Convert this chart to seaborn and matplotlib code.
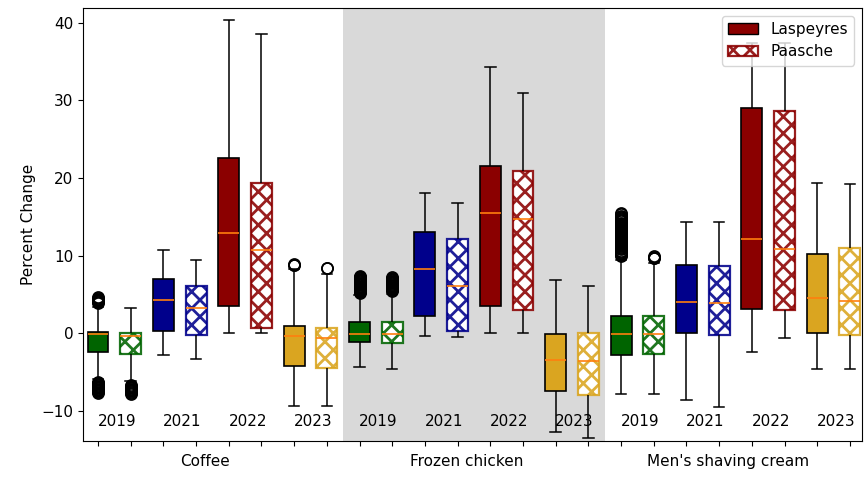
import numpy as np
import matplotlib
matplotlib.use("Agg")
import matplotlib.pyplot as plt
from matplotlib.patches import Patch
from matplotlib.colors import to_rgba
import seaborn as sns

plt.rcParams["font.size"] = 11
plt.rcParams["hatch.linewidth"] = 2.0

# Categories
groups = ["Coffee", "Frozen chicken", "Men's shaving cream"]
years = ["2019", "2021", "2022", "2023"]
methods = ["Laspeyres", "Paasche"]
year_colors = ["#006400", "#00008b", "#8b0000", "#daa520"]

# Box statistics, ordered group -> year -> (Laspeyres, Paasche)
whisker_low = [-5.9, -6.2, -2.79, -3.26, 0.0, 0.0, -9.36, -9.36,
               -4.38, -4.55, -0.3, -0.52, 0.0, 0.0, -12.66, -13.52,
               -7.85, -7.85, -8.62, -9.48, -2.36, -0.64, -4.6, -4.6]
q1 = [-2.4, -2.6, 0.34, -0.18, 3.56, 0.72, -4.17, -4.47,
      -1.08, -1.25, 2.23, 0.3, 3.56, 3.04, -7.47, -7.94,
      -2.79, -2.62, 0.0, -0.22, 3.13, 3.0, 0.0, -0.22]
median = [-0.05, -0.35, 4.29, 3.3, 12.9, 10.7, -0.3, -0.64,
          -0.04, -0.04, 8.24, 6.05, 15.48, 14.75, -3.4, -3.56,
          -0.04, -0.04, 3.99, 3.86, 12.14, 10.85, 4.58, 4.16]
q3 = [0.13, 0.08, 6.95, 6.13, 22.56, 19.4, 0.98, 0.64,
      1.41, 1.41, 13.04, 12.1, 21.57, 20.93, -0.09, 0.04,
      2.27, 2.27, 8.79, 8.66, 28.96, 28.6, 10.25, 10.94]
whisker_high = [3.4, 3.3, 10.76, 9.39, 40.3, 38.5, 8.3, 7.6,
                4.9, 5.0, 18.1, 16.77, 34.23, 30.9, 6.82, 6.05,
                9.5, 9.0, 14.29, 14.29, 37.4, 37.4, 19.38, 19.25]
outliers = [
    [-6.25, -6.35, -6.45, -6.55, -6.65, -6.75, -6.85, -6.95, -7.05, -7.15, -7.25,
     -7.35, -7.45, -7.55, -7.65,
     3.95, 4.05, 4.15, 4.25, 4.35, 4.45, 4.55, 4.65],
    [-6.65, -6.75, -6.85, -6.95, -7.05, -7.15, -7.25, -7.35, -7.45, -7.55, -7.65, -7.75],
    [], [], [], [],
    [8.75, 8.85, 8.95],
    [8.35, 8.45],
    [5.2, 5.3, 5.4, 5.5, 5.6, 5.7, 5.8, 5.9, 6.0, 6.1, 6.2, 6.3, 6.4, 6.5, 6.6, 6.7, 6.8,
     6.9, 7.0, 7.1, 7.2, 7.3, 7.4],
    [5.45, 5.55, 5.65, 5.75, 5.85, 5.95, 6.05, 6.15, 6.25, 6.35, 6.45, 6.55, 6.65, 6.75,
     6.85, 6.95, 7.05, 7.15, 7.25],
    [], [], [], [], [], [],
    [9.9, 10.05, 10.2, 10.35, 10.5, 10.65, 10.8, 10.95, 11.1, 11.25, 11.4, 11.55, 11.7,
     11.85, 12.0, 12.15, 12.3, 12.45, 12.6, 12.75, 12.9, 13.05, 13.2, 13.35, 13.5, 13.65,
     13.8, 13.95, 14.1, 14.25, 14.4, 14.55, 14.7, 14.85, 15.0, 15.15, 15.3, 15.5],
    [9.65, 9.75, 9.85, 9.95],
    [], [], [], [], [], [],
]


def sample_from_stats(i, reps=200):
    """Sample whose quartiles, whiskers and outliers reproduce box i."""
    return np.array(
        [whisker_low[i]] + [q1[i]] * reps + [median[i]] * reps
        + [q3[i]] * reps + [whisker_high[i]] + outliers[i]
    )


fig = plt.figure(figsize=(8.64, 4.78), dpi=100)
ax = fig.add_axes([83 / 864, 37 / 478, 779 / 864, 433 / 478])

# Shade the middle category
ax.axvspan(7.5, 15.5, facecolor="#d9d9d9", edgecolor="none", zorder=0)

flier_style = dict(marker="o", markersize=8, markerfacecolor="none",
                   markeredgecolor="black", markeredgewidth=1.2)

n_groups, n_years, n_methods = len(groups), len(years), len(methods)
for g in range(n_groups):
    for y in range(n_years):
        for m in range(n_methods):
            i = (g * n_years + y) * n_methods + m
            vals = sample_from_stats(i)
            sns.boxplot(
                x=np.full(len(vals), float(i)), y=vals, native_scale=True,
                orient="x", width=0.64, color=year_colors[y],
                linecolor="black", linewidth=1.1,
                flierprops=flier_style,
                medianprops=dict(color="#ff7f0e", linewidth=1.2),
                ax=ax,
            )
            box = ax.patches[-1]
            box.set_zorder(2)
            if methods[m] == "Paasche":
                edge = to_rgba(year_colors[y], 0.88)
                box.set_facecolor("white")
                box.set_edgecolor(edge)
                box.set_hatch("xx")
                box.set_linewidth(1.6)
            else:
                box.set_facecolor(year_colors[y])
                box.set_edgecolor("black")
                box.set_linewidth(1.2)

n_boxes = n_groups * n_years * n_methods
ax.set_xlim(-0.46, n_boxes - 1 + 0.37)
ax.set_ylim(-13.86, 41.87)
ax.set_xticks(np.arange(n_boxes))
ax.set_xticklabels([""] * n_boxes)
ax.set_yticks([-10, 0, 10, 20, 30, 40])
ax.set_xlabel("")
ax.set_ylabel("Percent Change")

# Year labels under each Laspeyres/Paasche pair
for g in range(n_groups):
    for y, year in enumerate(years):
        xc = (g * n_years + y) * n_methods + 0.5
        ax.text(xc + 0.08, -11.3, year, ha="center", va="center", fontsize=11, zorder=3)

# Category labels below the axis
for g, name in enumerate(groups):
    xc = g * n_years * n_methods + (n_years * n_methods - 1) / 2 - 0.23
    ax.annotate(name, xy=(xc, 0), xycoords=("data", "axes fraction"),
                xytext=(0, -14.5), textcoords="offset points",
                ha="center", va="center", fontsize=11)

handles = [
    Patch(facecolor="#8b0000", edgecolor="black", label="Laspeyres"),
    Patch(facecolor="white", edgecolor=to_rgba("#8b0000", 0.88), hatch="xx",
          linewidth=1.6, label="Paasche"),
]
ax.legend(handles=handles, loc="upper right", fontsize=11)

fig.savefig("out.png", dpi=100)
